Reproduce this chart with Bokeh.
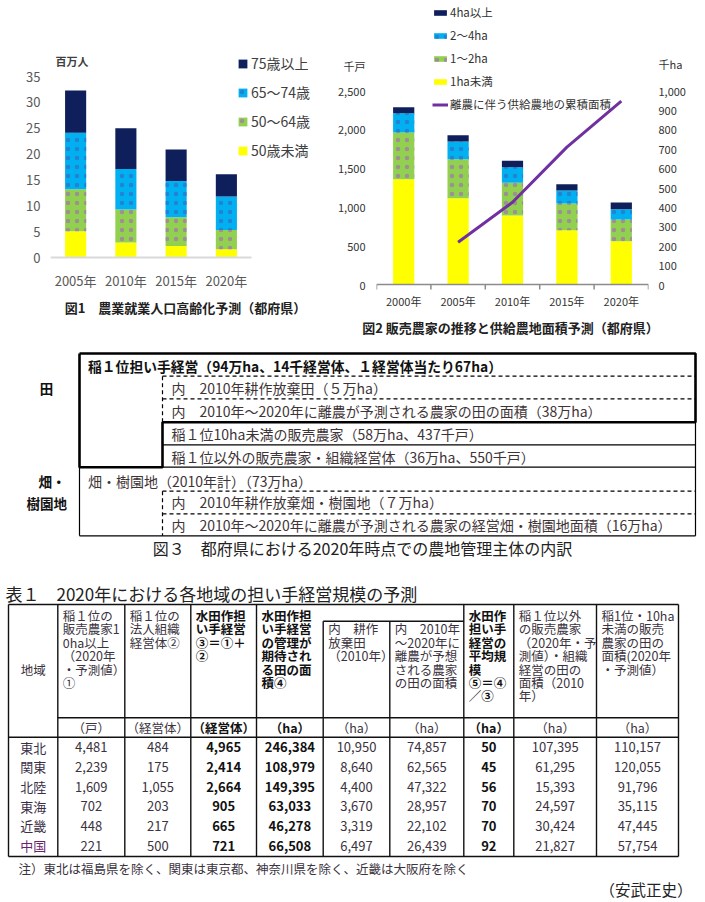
from bokeh.plotting import figure
from bokeh.models import (ColumnDataSource, Range1d, LinearAxis, FixedTicker,
                          NumeralTickFormatter, Legend, LegendItem, Label)
from bokeh.layouts import column, row
from bokeh.embed import file_html
from bokeh.resources import INLINE
from bokeh.core.properties import value

FONT = "Noto Sans CJK JP"

# ---------------- Figure 1 data ----------------
years1 = ["2005年", "2010年", "2015年", "2020年"]
age_under50 = [5.1, 2.9, 2.2, 1.6]
age_50_64 = [8.1, 6.4, 5.6, 3.7]
age_65_74 = [10.9, 7.8, 7.0, 6.5]
age_75plus = [8.2, 7.9, 6.1, 4.3]
age_labels = ["50歳未満", "50～64歳", "65～74歳", "75歳以上"]
fig1_ticks = [0, 5, 10, 15, 20, 25, 30, 35]
fig1_unit = "百万人"
fig1_caption = "図1　農業就業人口高齢化予測（都府県）"

# ---------------- Figure 2 data ----------------
years2 = ["2000年", "2005年", "2010年", "2015年", "2020年"]
ha_under1 = [1357, 1113, 889, 700, 558]
ha_1_2 = [602, 502, 421, 344, 280]
ha_2_4 = [249, 228, 202, 167, 133]
ha_4plus = [77, 81, 82, 82, 86]
size_labels = ["1ha未満", "1～2ha", "2～4ha", "4ha以上"]
line_years = ["2005年", "2010年", "2015年", "2020年"]
supply_area = [218, 424, 708, 945]
line_label = "離農に伴う供給農地の累積面積"
fig2_left_ticks = [0, 500, 1000, 1500, 2000, 2500]
fig2_right_ticks = [0, 100, 200, 300, 400, 500, 600, 700, 800, 900, 1000]
fig2_left_unit = "千戸"
fig2_right_unit = "千ha"
fig2_caption = "図2 販売農家の推移と供給農地面積予測（都府県）"

# ---------------- Figure 3 texts ----------------
diag_head = "稲１位担い手経営（94万ha、14千経営体、１経営体当たり67ha）"
diag_paddy_sub = ["内　2010年耕作放棄田（５万ha）",
                  "内　2010年～2020年に離農が予測される農家の田の面積（38万ha）"]
diag_paddy_other = ["稲１位10ha未満の販売農家（58万ha、437千戸）",
                    "稲１位以外の販売農家・組織経営体（36万ha、550千戸）"]
diag_field_head = "畑・樹園地（2010年計）（73万ha）"
diag_field_sub = ["内　2010年耕作放棄畑・樹園地（７万ha）",
                  "内　2010年～2020年に離農が予測される農家の経営畑・樹園地面積（16万ha）"]
diag_side = ["田", "畑・", "樹園地"]
fig3_caption = "図３　都府県における2020年時点での農地管理主体の内訳"

# ---------------- Table 1 data ----------------
table_title = "表１　2020年における各地域の担い手経営規模の予測"
regions = ["東北", "関東", "北陸", "東海", "近畿", "中国"]
farms_10ha = [4481, 2239, 1609, 702, 448, 221]
corp_units = [484, 175, 1055, 203, 217, 500]
paddy_units = [4965, 2414, 2664, 905, 665, 721]
paddy_area = [246384, 108979, 149395, 63033, 46278, 66508]
abandoned_area = [10950, 8640, 4400, 3670, 3319, 6497]
retire_area = [74857, 62565, 47322, 28957, 22102, 26439]
avg_scale = [50, 45, 56, 70, 70, 92]
other_area = [107395, 61295, 15393, 24597, 30424, 21827]
small_area = [110157, 120055, 91796, 35115, 47445, 57754]
col_headers = [
    ["稲１位の", "販売農家1", "0ha以上", "（2020年", "・予測値）", "①"],
    ["稲１位の", "法人組織", "経営体②"],
    ["水田作担", "い手経営", "③＝①＋", "②"],
    ["水田作担", "い手経営", "の管理が", "期待され", "る田の面", "積④"],
    ["内　耕作", "放棄田", "（2010年）"],
    ["内　2010年", "～2020年に", "離農が予想", "される農家", "の田の面積"],
    ["水田作", "担い手", "経営の", "平均規", "模", "⑤＝④", "／③"],
    ["稲１位以外", "の販売農家", "（2020年・予", "測値）・組織", "経営の田の", "面積（2010", "年）"],
    ["稲1位・10ha", "未満の販売", "農家の田の", "面積(2020年", "・予測値）"],
]
col_units = ["（戸）", "（経営体）", "（経営体）", "（ha）", "（ha）", "（ha）", "（ha）", "（ha）", "（ha）"]
col_bold = [False, False, True, True, False, False, True, False, False]
col_first_line = [0, 0, 0, 0, 1, 1, 0, 0, 0]
region_header = "地域"
footnote = "注）東北は福島県を除く、関東は東京都、神奈川県を除く、近畿は大阪府を除く"
author = "（安武正史）"

NAVY, BLUE, GREEN, YELLOW, PURPLE = "#0f1f5c", "#00b0f0", "#92d050", "#ffff00", "#7030a0"
HATCH = dict(hatch_pattern=[" ", ".", ".", " "],
             hatch_color=["#ffffff", "#a07aa8", "#2f73c8", "#ffffff"],
             hatch_scale=9, hatch_weight=1, hatch_alpha=0.75)

TOP_H = 317          # height of the two chart figures (both frames span it fully)

# ======================= Figure 1 =======================
W1 = 330
F1_L = 50                       # frame left (y axis)
F1_AX, F1_35 = 257, 76          # pixel rows of value 0 and 35
F1_CAT = 201 / len(years1)      # pixels per category
k1 = (F1_AX - F1_35) / 35.0
p1 = figure(width=W1, height=TOP_H,
            x_range=Range1d(0, (W1 - F1_L) / F1_CAT),
            y_range=Range1d((F1_AX - TOP_H) / k1, F1_AX / k1),
            output_backend="svg", toolbar_location=None, title=None,
            min_border_left=F1_L, min_border_right=0, min_border_top=0, min_border_bottom=0)
p1.outline_line_color = None
p1.grid.visible = False
x1 = [i + 0.5 for i in range(len(years1))]
src1 = ColumnDataSource(dict(x=x1, a=age_under50, b=age_50_64, c=age_65_74, d=age_75plus))
rs1 = p1.vbar_stack(["a", "b", "c", "d"], x="x", width=0.42, source=src1,
                    fill_color=[YELLOW, GREEN, BLUE, NAVY], line_color=None, **HATCH)
p1.segment(x0=[0], y0=[0], x1=[len(years1)], y1=[0], line_color="#d9d9d9", line_width=2)
p1.yaxis.ticker = FixedTicker(ticks=fig1_ticks)
p1.xaxis.ticker = FixedTicker(ticks=x1)
p1.xaxis.major_label_overrides = {xv: yr for xv, yr in zip(x1, years1)}
for ax in (p1.xaxis, p1.yaxis):
    ax.axis_line_color = None
    ax.major_tick_line_color = None
    ax.minor_tick_line_color = None
    ax.major_tick_out = 0
    ax.major_label_text_font = FONT
    ax.major_label_text_font_size = "13px"
    ax.major_label_text_color = "#595959"
p1.yaxis.major_label_standoff = 10
p1.xaxis.major_label_standoff = 270 - TOP_H

leg1 = Legend(items=[LegendItem(label=age_labels[i], renderers=[rs1[i]]) for i in (3, 2, 1, 0)],
              location=(237 - F1_L, TOP_H - 160), glyph_width=11, glyph_height=11,
              label_height=20, spacing=9, padding=0, margin=0, label_standoff=3,
              border_line_color=None, background_fill_alpha=0, label_text_font=FONT,
              label_text_font_size="14px", label_text_color="#404040")
p1.add_layout(leg1)
p1.add_layout(Label(x=(55 - F1_L) / F1_CAT, y=(F1_AX - 60) / k1, text=fig1_unit, text_font=FONT,
                    text_font_size="11px", text_font_style="bold", text_color="#404040",
                    text_baseline="middle"))
p1.add_layout(Label(x=(185 - F1_L) / F1_CAT, y=(F1_AX - 306.5) / k1, text=fig1_caption,
                    text_font=FONT, text_font_size="13px", text_font_style="bold",
                    text_color="#222222", text_align="center", text_baseline="middle"))

# ======================= Figure 2 =======================
X2 = W1
W2 = 705 - W1
F2_L, F2_R = 376, 648           # page pixels of left / right axes
F2_AX, F2_TOPV = 284, 90        # pixel rows of value 0 and of 2,500 (1,000 right)
k2 = (F2_AX - F2_TOPV) / 2500.0
k2r = (F2_AX - F2_TOPV) / 1000.0
p2 = figure(width=W2, height=TOP_H, x_range=Range1d(0, len(years2)),
            y_range=Range1d((F2_AX - TOP_H) / k2, F2_AX / k2),
            output_backend="svg", toolbar_location=None, title=None,
            min_border_left=F2_L - X2, min_border_right=705 - F2_R,
            min_border_top=0, min_border_bottom=0)
p2.extra_y_ranges = {"right": Range1d((F2_AX - TOP_H) / k2r, F2_AX / k2r)}
p2.outline_line_color = None
p2.grid.visible = False
x2 = [i + 0.5 for i in range(len(years2))]
src2 = ColumnDataSource(dict(x=x2, a=ha_under1, b=ha_1_2, c=ha_2_4, d=ha_4plus))
rs2 = p2.vbar_stack(["a", "b", "c", "d"], x="x", width=0.39, source=src2,
                    fill_color=[YELLOW, GREEN, BLUE, NAVY], line_color=None, **HATCH)
xl = [years2.index(y) + 0.5 for y in line_years]
rl = p2.line(x=xl, y=supply_area, y_range_name="right", line_color=PURPLE, line_width=3)
bnd = list(range(len(years2) + 1))
p2.segment(x0=[0], y0=[0], x1=[len(years2)], y1=[0], line_color="#8c8c8c", line_width=1.5)
p2.segment(x0=bnd, y0=[0] * len(bnd), x1=bnd, y1=[-5 / k2] * len(bnd),
           line_color="#8c8c8c", line_width=1.5)

unit_l = (F2_AX - 65) / k2
unit_r = (F2_AX - 63) / k2r
p2.yaxis.ticker = FixedTicker(ticks=fig2_left_ticks + [unit_l])
p2.yaxis.formatter = NumeralTickFormatter(format="0,0")
p2.yaxis.major_label_overrides = {unit_l: fig2_left_unit}
p2.add_layout(LinearAxis(y_range_name="right", ticker=FixedTicker(ticks=fig2_right_ticks + [unit_r]),
                         formatter=NumeralTickFormatter(format="0,0"),
                         major_label_overrides={unit_r: fig2_right_unit}), "right")
p2.xaxis.ticker = FixedTicker(ticks=x2)
p2.xaxis.major_label_overrides = {xv: yr for xv, yr in zip(x2, years2)}
for ax in p2.axis:
    ax.axis_line_color = None
    ax.major_tick_line_color = None
    ax.minor_tick_line_color = None
    ax.major_tick_out = 0
    ax.major_label_text_font = FONT
    ax.major_label_text_font_size = "11px"
    ax.major_label_text_color = "#333333"
    ax.major_label_standoff = 10
p2.yaxis[0].major_label_standoff = 11
p2.xaxis.major_label_standoff = 292 - TOP_H

leg2 = Legend(items=[LegendItem(label=size_labels[3], renderers=[rs2[3]]),
                     LegendItem(label=size_labels[2], renderers=[rs2[2]]),
                     LegendItem(label=size_labels[1], renderers=[rs2[1]]),
                     LegendItem(label=size_labels[0], renderers=[rs2[0]]),
                     LegendItem(label=line_label, renderers=[rl])],
              location=(432 - F2_L, TOP_H - 112), glyph_width=16, glyph_height=7,
              label_height=14, spacing=7, padding=0, margin=0, label_standoff=2,
              border_line_color=None, background_fill_alpha=0, label_text_font=FONT,
              label_text_font_size="11.5px", label_text_color="#333333")
p2.add_layout(leg2)

# ======================= Figure 3 (caption 2, diagram, table) =======================
W3, H3 = 705, 902 - TOP_H
p3 = figure(width=W3, height=H3, x_range=Range1d(0, W3), y_range=Range1d(902, TOP_H),
            output_backend="svg", toolbar_location=None, title=None,
            x_axis_location=None, y_axis_location=None, min_border=0)
p3.outline_line_color = None
p3.grid.visible = False

def txt(xs, ys, texts, size, bold=False, color="#222222", align="left"):
    p3.text(x=xs, y=ys, text=texts, text_font=value(FONT), text_font_size=value(size),
            text_font_style="bold" if bold else "normal", text_color=color,
            text_align=align, text_baseline="middle")

txt([510], [327], [fig2_caption], "13px", bold=True, color="#222222", align="center")

# ---- diagram frame
L, M, R = 79, 162, 695
top, d1, d2, t2, t3, t4, d3, d4, bot = 353, 375.7, 398.3, 421.7, 444.3, 466.7, 490.7, 513.3, 535.3
p3.line(x=[L, R, R, M, M, L, L], y=[top, top, t2, t2, t4, t4, top], line_color="black", line_width=2.6)
p3.segment(x0=[R, M, M, L, L], y0=[t2, t3, t4, t4, bot], x1=[R, R, R, L, R], y1=[bot, t3, t4, bot, bot],
           line_color="black", line_width=1.2)
p3.segment(x0=[M, M, M, M, M, M], y0=[d1, d2, d1, d3, d4, d3], x1=[R, R, M, R, R, M],
           y1=[d1, d2, t2, d3, d4, bot], line_color="black", line_width=1.2, line_dash="4 3")
DC = "#3e3438"
txt([87.5], [365.5], [diag_head], "13.8px", bold=True, color="#111111")
txt([171, 171], [387.7, 410], diag_paddy_sub, "14px", color=DC)
txt([171, 171], [433.3, 456], diag_paddy_other, "14px", color=DC)
txt([87.5], [480], [diag_field_head], "14px", color=DC)
txt([171, 171], [501.7, 524.3], diag_field_sub, "14px", color=DC)
txt([46, 51.5, 46.3], [387.7, 480, 502.3], diag_side, "13.5px", bold=True,
    color="#111111", align="center")
txt([362], [547], [fig3_caption], "16px", color="#222222", align="center")

# ---- table
txt([5], [593], [table_title], "17px", color="#222222")
tx = [8, 57.3, 124.3, 190.3, 256, 322.7, 389.3, 463.3, 513.3, 596, 678]
T_top, T_sub, T_hdr, T_unit, T_bot = 604, 620.7, 717.3, 736.7, 856
vy0 = [T_sub if i in (5, 6) else T_top for i in range(len(tx))]
p3.segment(x0=tx, y0=vy0, x1=tx, y1=[T_bot] * len(tx), line_color="#111111", line_width=1.4)
p3.segment(x0=[tx[0], tx[5], tx[1], tx[0], tx[0]], y0=[T_top, T_sub, T_hdr, T_unit, T_bot],
           x1=[tx[-1], tx[7], tx[-1], tx[-1], tx[-1]], y1=[T_top, T_sub, T_hdr, T_unit, T_bot],
           line_color="#111111", line_width=1.4)

TC = "#3b3340"
txt([(tx[0] + tx[1]) / 2], [669], [region_header], "12.5px", color=TC, align="center")
LH0, LH = 615, 13.4
for j, lines in enumerate(col_headers):
    xs = [tx[j + 1] + 5] * len(lines)
    ys = [LH0 + LH * (col_first_line[j] + k) for k in range(len(lines))]
    txt(xs, ys, lines, "12.5px", bold=col_bold[j], color="#111111" if col_bold[j] else TC)
for j, u in enumerate(col_units):
    txt([(tx[j + 1] + tx[j + 2]) / 2], [727], [u], "12.5px", bold=col_bold[j],
        color="#111111" if col_bold[j] else TC, align="center")

row_y = [746.7 + 19.66 * i for i in range(len(regions))]
reg_colors = ["#3b2f48"] * (len(regions) - 1) + ["#6e1f6e"]
p3.text(x=[(tx[0] + tx[1]) / 2] * len(regions), y=row_y, text=regions, text_font=value(FONT),
        text_font_size=value("13px"), text_color=reg_colors, text_align="center",
        text_baseline="middle")
table_cols = [farms_10ha, corp_units, paddy_units, paddy_area, abandoned_area, retire_area,
              avg_scale, other_area, small_area]
for j, vals in enumerate(table_cols):
    cx = (tx[j + 1] + tx[j + 2]) / 2
    txt([cx] * len(vals), row_y, [f"{v:,}" for v in vals], "13px", bold=col_bold[j],
        color="#111111" if col_bold[j] else TC, align="center")

txt([18], [867.5], [footnote], "12.5px", color=TC)
txt([692], [888], [author], "15.5px", color="#222222", align="right")

layout = column(row(p1, p2, spacing=0), p3, spacing=0)
open("out.html", "w").write(file_html(layout, INLINE))
